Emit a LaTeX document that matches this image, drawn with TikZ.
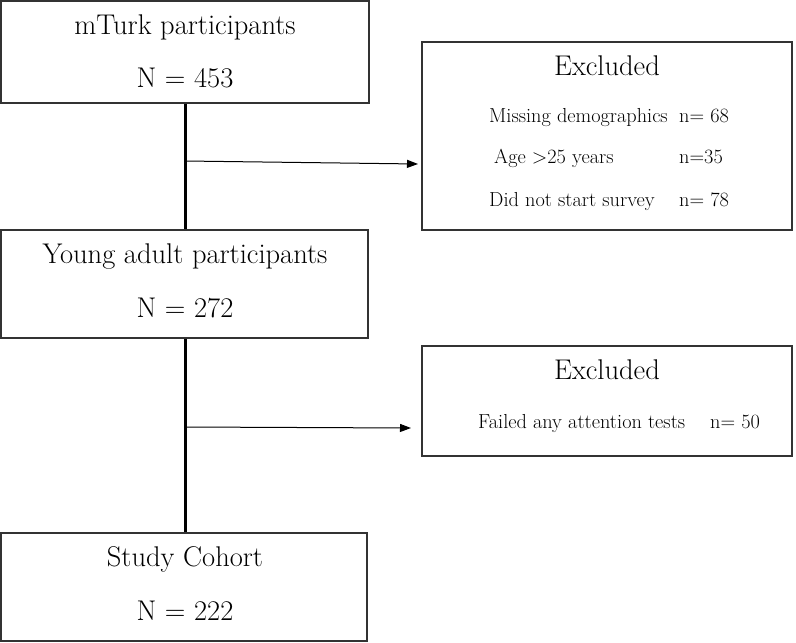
\documentclass[tikz,border=0pt]{standalone}
\usetikzlibrary{arrows.meta}
\begin{document}
\begin{tikzpicture}[x=1pt,y=-1pt,
  box/.style={draw=black!80,line width=1.4pt,minimum width=#1,inner sep=0pt},
  big/.style={font=\fontsize{28.5}{32}\selectfont,anchor=base,inner sep=0pt},
  small/.style={font=\fontsize{20.3}{24}\selectfont,anchor=base,inner sep=0pt},
  trunk/.style={line width=3pt,black},
  branch/.style={line width=1pt,black,-{Triangle[length=11pt,width=8pt]}}]
\useasboundingbox (0,0) rectangle (796,643);
% boxes
\node[box=368pt,minimum height=102pt] (b1) at (185,52) {};
\node[box=367pt,minimum height=108pt] (b2) at (184.5,284) {};
\node[box=366pt,minimum height=108pt] (b3) at (184,587) {};
\node[box=370pt,minimum height=188pt] (e1) at (607,136) {};
\node[box=370pt,minimum height=110pt] (e2) at (607,401) {};
% texts
\node[big] (t1) at (185,34) {mTurk participants};
\node[big] (n1) at (185,87) {N = 453};
\node[big] (t2) at (185,263) {Young adult participants};
\node[big] (n2) at (185,317) {N = 272};
\node[big] (t3) at (185,566) {Study Cohort};
\node[big] (n3) at (185,620) {N = 222};
\node[big] (x1) at (607,75) {Excluded};
\node[small,anchor=base west] (m1) at (489,122) {Missing demographics};
\node[small,anchor=base west] (m1n) at (679,122) {n= 68};
\node[small,anchor=base west] (m2) at (494,163) {Age >25 years};
\node[small,anchor=base west] (m2n) at (679,163) {n=35};
\node[small,anchor=base west] (m3) at (489,206) {Did not start survey};
\node[small,anchor=base west] (m3n) at (679,206) {n= 78};
\node[big] (x2) at (607,379) {Excluded};
\node[small,anchor=base west] (f1) at (478,428) {Failed any attention tests};
\node[small,anchor=base west] (f1n) at (710,428) {n= 50};
% connectors
\draw[trunk] (b1.south) -- (b1.south |- b2.north);
\draw[trunk] (b1.south |- b2.south) -- (b1.south |- b3.north);
\coordinate (a1s) at (185,161);
\coordinate (a1e) at (418,164);
\coordinate (a2s) at (185,427);
\coordinate (a2e) at (411,428);
\draw[branch] (a1s) -- (a1e);
\draw[branch] (a2s) -- (a2e);
\end{tikzpicture}
\end{document}
